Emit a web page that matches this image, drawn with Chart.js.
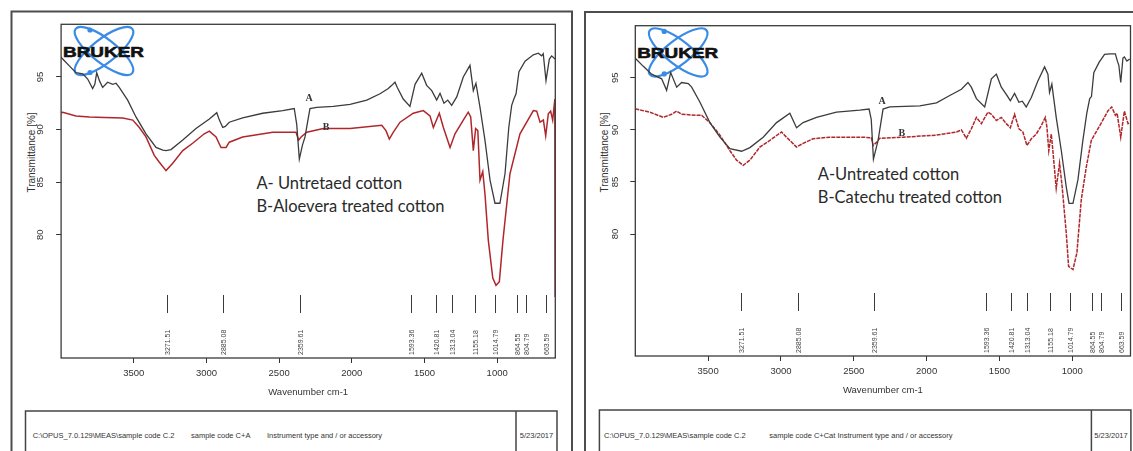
<!DOCTYPE html>
<html>
<head>
<meta charset="utf-8">
<script src="https://cdn.jsdelivr.net/npm/chart.js@4.4.1/dist/chart.umd.min.js"></script>
<style>
  body { margin: 0; background: #fff; width: 1133px; height: 451px; overflow: hidden; position: relative; }
  svg, canvas { position: absolute; top: 0; }
  #deco { left: 0; }
  #leftChart { left: 0; }
  #rightChart { left: 575px; }
</style>
</head>
<body>
<svg id="deco" width="1133" height="451" font-family="Arial, 'Liberation Sans', sans-serif">
  <!-- outer frames -->
  <rect x="11.5" y="11.5" width="560.5" height="470" fill="none" stroke="#4d4d4d" stroke-width="2"/>
  <rect x="585" y="12" width="600" height="470" fill="none" stroke="#4d4d4d" stroke-width="2"/>

  <!-- bruker logos -->
  <g id="logoL">
    <ellipse cx="104" cy="51" rx="36" ry="12" transform="rotate(38 104 51)" fill="none" stroke="#3a8be6" stroke-width="2.2"/>
    <ellipse cx="104" cy="51" rx="36" ry="12" transform="rotate(-38 104 51)" fill="none" stroke="#3a8be6" stroke-width="2.2"/>
    <circle cx="90" cy="30" r="2.6" fill="#3a8be6"/>
    <circle cx="90" cy="72.5" r="2.6" fill="#3a8be6"/>
    <text x="63" y="57" font-weight="bold" font-size="15.5" fill="#111" stroke="#111" stroke-width="0.6" textLength="81" lengthAdjust="spacingAndGlyphs">BRUKER</text>
  </g>
  <use href="#logoL" transform="translate(574.2,1.4)"/>

  <!-- y axis titles -->
  <text transform="translate(35.3,152.5) rotate(-90)" text-anchor="middle" font-size="10" fill="#333">Transmittance [%]</text>
  <text transform="translate(608.4,152.5) rotate(-90)" text-anchor="middle" font-size="10" fill="#333">Transmittance [%]</text>

  <!-- sample annotations -->
  <g font-family="Lato, 'Open Sans', sans-serif" font-size="16.5" fill="#2a2a2a">
    <text x="256.4" y="189.2">A- Untretaed cotton</text>
    <text x="256.4" y="211.6">B-Aloevera treated cotton</text>
    <text x="817.8" y="179.9">A-Untreated cotton</text>
    <text x="817.8" y="202.6">B-Catechu treated cotton</text>
  </g>

  <!-- info boxes -->
  <g fill="none" stroke="#444" stroke-width="1.5">
    <rect x="25.5" y="411" width="531.5" height="60"/>
    <line x1="516" y1="411" x2="516" y2="451"/>
    <rect x="599.4" y="410" width="531.5" height="60"/>
    <line x1="1091.4" y1="410" x2="1091.4" y2="451"/>
  </g>
  <g font-size="7.5" fill="#333">
    <text x="32.7" y="438">C:\OPUS_7.0.129\MEAS\sample code C.2</text>
    <text x="191" y="438">sample code C+A</text>
    <text x="267" y="438">Instrument type and / or accessory</text>
    <text x="536.5" y="438" text-anchor="middle">5/23/2017</text>
    <text x="604" y="437.5">C:\OPUS_7.0.129\MEAS\sample code C.2</text>
    <text x="769.3" y="437.5">sample code C+Cat Instrument type and / or accessory</text>
    <text x="1111" y="437.5" text-anchor="middle">5/23/2017</text>
  </g>
</svg>
<canvas id="leftChart" width="572" height="451"></canvas>
<canvas id="rightChart" width="558" height="451"></canvas>
<script>
// axis ticks and marked peaks (cm-1)
const xTicks = [3500, 3000, 2500, 2000, 1500, 1000];
const yTicks = [80, 85, 90, 95];
const peakWn = [3271.51, 2885.08, 2359.61, 1593.36, 1420.81, 1313.04, 1155.18, 1014.79, 864.55, 804.79, 663.59];
const seriesNames = ['A', 'B'];

// left panel: A untreated, B aloevera treated
const leftWnA = [
  4000, 3989, 3940, 3898, 3851, 3817, 3783, 3768, 3755, 3735,
  3714, 3680, 3645, 3622, 3600, 3542, 3485, 3416, 3347, 3300,
  3278, 3244, 3163, 3072, 2980, 2929, 2911, 2888, 2870, 2843,
  2751, 2613, 2475, 2396, 2379, 2361, 2340, 2322, 2288, 2241,
  2127, 2012, 1897, 1806, 1749, 1725, 1703, 1687, 1646, 1600,
  1565, 1519, 1485, 1450, 1416, 1393, 1366, 1340, 1313, 1278,
  1233, 1187, 1164, 1146, 1118, 1084, 1049, 1015, 981, 946,
  920, 900, 885, 870, 850, 808, 751, 717, 694, 683,
  664, 641, 625, 602
];
const leftTA = [
  96.9, 96.7, 96.0, 95.4, 95.3, 94.8, 93.9, 94.3, 95.4, 94.6,
  94.0, 94.5, 94.3, 94.4, 94.0, 92.8, 91.2, 89.6, 88.3, 88.05,
  88.0, 88.1, 89.0, 90.1, 91.0, 91.6, 90.9, 90.2, 90.3, 90.7,
  91.1, 91.55, 91.8, 92.0, 90.5, 87.2, 88.5, 89.3, 92.0, 92.1,
  92.2, 92.4, 92.8, 93.4, 93.9, 94.2, 94.5, 94.0, 92.9, 92.2,
  94.3, 95.35, 94.2, 93.7, 92.8, 93.45, 92.5, 92.8, 92.3, 93.1,
  95.0, 96.1, 93.7, 94.4, 92.1, 89.0, 85.2, 83.0, 83.0, 85.8,
  90.2, 92.3, 92.9, 93.4, 95.5, 96.5, 97.1, 97.25, 97.0, 97.2,
  94.65, 96.7, 97.0, 96.7
];
const leftWnB = [
  4000, 3989, 3898, 3806, 3700, 3576, 3507, 3462, 3416, 3359,
  3324, 3278, 3232, 3163, 3095, 3015, 2980, 2934, 2900, 2865,
  2843, 2751, 2544, 2384, 2366, 2349, 2310, 2196, 2012, 1794,
  1765, 1742, 1714, 1668, 1577, 1508, 1462, 1439, 1398, 1370,
  1324, 1290, 1233, 1199, 1182, 1164, 1148, 1133, 1118, 1099,
  1084, 1061, 1030, 1008, 985, 960, 912, 843, 751, 728,
  705, 682, 666, 648, 632, 618, 603, 601
];
const leftTB = [
  91.6, 91.65, 91.3, 91.2, 91.15, 91.1, 90.9, 90.2, 89.3, 87.55,
  86.9, 86.1, 86.8, 88.0, 88.7, 89.6, 89.85, 89.3, 88.3, 88.3,
  88.8, 89.3, 89.75, 89.75, 89.0, 89.3, 89.75, 90.1, 90.1, 90.4,
  89.9, 89.1, 89.75, 90.7, 91.55, 91.8, 91.3, 90.2, 91.55, 90.2,
  88.3, 89.6, 90.9, 91.65, 91.2, 88.0, 90.1, 89.9, 85.2, 86.0,
  83.9, 79.5, 75.9, 75.2, 75.55, 79.5, 85.8, 89.6, 91.8, 91.75,
  90.7, 90.9, 89.4, 91.5, 91.75, 90.9, 92.9, 74.1
];

// right panel: A untreated, B catechu treated
const rightWnA = [
  4000, 3995, 3945, 3888, 3819, 3785, 3757, 3716, 3682, 3636,
  3613, 3556, 3488, 3419, 3350, 3270, 3213, 3122, 3030, 2939,
  2893, 2848, 2756, 2619, 2459, 2395, 2380, 2365, 2333, 2299,
  2253, 2047, 1932, 1841, 1761, 1716, 1693, 1658, 1601, 1555,
  1521, 1487, 1453, 1425, 1396, 1366, 1343, 1316, 1281, 1236,
  1190, 1167, 1156, 1140, 1110, 1075, 1041, 1022, 995, 961,
  927, 900, 880, 868, 852, 815, 778, 740, 704, 690,
  680, 667, 652, 642, 625, 606
];
const rightTA = [
  96.9, 96.8, 96.1, 95.35, 94.9, 93.8, 95.5, 94.1, 94.55, 94.45,
  94.1, 92.65, 90.7, 89.3, 88.2, 87.95, 88.3, 89.3, 90.7, 91.6,
  90.2, 90.7, 91.2, 91.7, 91.9, 92.0, 91.0, 87.2, 89.0, 92.0,
  92.2, 92.3, 92.6, 93.3, 93.9, 94.55, 94.1, 93.0, 92.2, 94.9,
  95.35, 94.1, 93.4, 92.8, 93.5, 92.65, 92.75, 92.2, 93.1, 94.7,
  96.05, 95.35, 93.6, 94.4, 91.2, 88.0, 84.5, 82.95, 82.95, 85.2,
  89.0, 91.6, 93.0, 93.2, 95.5, 96.5, 97.25, 97.3, 97.3, 96.6,
  96.2, 94.55, 96.9, 97.0, 96.6, 96.8
];
const rightWnB = [
  4000, 3995, 3899, 3808, 3750, 3716, 3682, 3579, 3545, 3488,
  3419, 3350, 3305, 3259, 3213, 3145, 3076, 2996, 2962, 2893,
  2848, 2779, 2665, 2436, 2379, 2367, 2344, 2322, 2162, 1932,
  1795, 1761, 1727, 1693, 1658, 1624, 1579, 1555, 1521, 1487,
  1453, 1425, 1396, 1366, 1339, 1311, 1281, 1247, 1213, 1185,
  1174, 1161, 1144, 1133, 1110, 1087, 1069, 1041, 1025, 995,
  968, 938, 904, 869, 803, 754, 729, 704, 692, 667,
  642, 617, 606
];
const rightTB = [
  92.0, 92.0, 91.7, 91.2, 91.5, 91.8, 91.5, 91.4, 91.4, 90.7,
  89.5, 88.0, 87.1, 86.6, 87.1, 88.35, 89.0, 89.8, 89.3, 88.35,
  88.7, 89.15, 89.3, 89.3, 89.25, 88.5, 88.8, 89.2, 89.3, 89.5,
  89.8, 90.0, 89.2, 90.1, 91.2, 90.6, 91.7, 91.5, 90.9, 91.2,
  90.6, 90.2, 91.5, 90.1, 89.8, 88.5, 89.15, 89.6, 90.4, 91.2,
  90.3, 88.0, 89.6, 88.0, 84.4, 86.8, 84.5, 80.1, 76.9, 76.6,
  78.2, 83.3, 86.4, 89.0, 90.6, 91.85, 92.2, 91.4, 91.6, 89.3,
  91.8, 90.6, 90.7
];

function pts(wn, t) {
  return wn.map((w, i) => ({ x: w, y: t[i] }));
}

// plot box, rotated y labels, peak markers and the A / B curve tags
const decor = {
  id: 'decor',
  afterDatasetsDraw(chart, args, o) {
    const { ctx, chartArea: a, scales: { x, y } } = chart;
    ctx.save();
    ctx.strokeStyle = '#3a3a3a';
    ctx.lineWidth = 1.3;
    ctx.strokeRect(a.left, a.top, a.right - a.left, a.bottom - a.top);

    ctx.fillStyle = '#333';
    ctx.font = '9.5px Arial';
    ctx.textAlign = 'center';
    ctx.textBaseline = 'middle';
    yTicks.forEach(v => {
      ctx.save();
      ctx.translate(a.left - o.yLabelOff, y.getPixelForValue(v));
      ctx.rotate(-Math.PI / 2);
      ctx.fillText(String(v), 0, 0);
      ctx.restore();
    });

    ctx.lineWidth = 1;
    ctx.fillStyle = '#444';
    ctx.font = '7px Arial';
    ctx.textAlign = 'left';
    peakWn.forEach(w => {
      const px = Math.round(x.getPixelForValue(w)) + 0.5;
      ctx.beginPath();
      ctx.moveTo(px, a.bottom - 63);
      ctx.lineTo(px, a.bottom - 45);
      ctx.stroke();
      ctx.save();
      ctx.translate(px + 1, a.bottom - 3);
      ctx.rotate(-Math.PI / 2);
      ctx.fillText(w.toFixed(2), 0, 0);
      ctx.restore();
    });

    ctx.font = 'bold 10px "Liberation Serif"';
    ctx.fillStyle = '#333';
    ctx.textAlign = 'center';
    o.tags.forEach((t, i) => {
      ctx.fillText(seriesNames[i], x.getPixelForValue(t[0]), y.getPixelForValue(t[1]));
    });
    ctx.restore();
  }
};

const tickFont = { family: 'Arial', size: 9.5 };

function makeChart(id, a, b, o) {
  return new Chart(document.getElementById(id), {
    type: 'line',
    data: {
      datasets: [
        { label: seriesNames[0], data: a, borderColor: '#3c3c3c', borderWidth: 1.3 },
        { label: seriesNames[1], data: b, borderColor: '#b0272b', borderWidth: 1.5, borderDash: o.dash }
      ]
    },
    options: {
      responsive: false,
      animation: false,
      parsing: false,
      elements: { point: { radius: 0 }, line: { tension: 0 } },
      layout: { padding: o.pad },
      scales: {
        x: {
          type: 'linear',
          reverse: true,
          min: 600,
          max: 4000,
          afterBuildTicks: s => { s.ticks = xTicks.map(v => ({ value: v })); },
          afterFit: s => { s.height = 40; },
          grid: { drawOnChartArea: false, drawTicks: true, tickLength: 5, color: '#333' },
          border: { display: false },
          ticks: { font: tickFont, color: '#333', padding: 5, maxRotation: 0, autoSkip: false, callback: v => String(v) },
          title: { display: true, text: 'Wavenumber cm-1', font: tickFont, color: '#333', padding: 0 }
        },
        y: {
          type: 'linear',
          min: 68.3,
          max: 100,
          afterBuildTicks: s => { s.ticks = yTicks.map(v => ({ value: v })); },
          afterFit: s => { s.width = o.yWidth; },
          grid: { drawOnChartArea: false, drawTicks: true, tickLength: 5, color: '#333' },
          border: { display: false },
          ticks: { display: false }
        }
      },
      plugins: {
        legend: { display: false },
        tooltip: { enabled: false },
        decor: { tags: o.tags, yLabelOff: o.yLabelOff }
      }
    },
    plugins: [decor]
  });
}

makeChart('leftChart', pts(leftWnA, leftTA), pts(leftWnB, leftTB), {
  pad: { left: 0, top: 24.3, right: 16.7, bottom: 53 },
  yWidth: 61.1,
  yLabelOff: 21,
  dash: [],
  tags: [[2294, 92.97], [2177, 90.23]]
});

makeChart('rightChart', pts(rightWnA, rightTA), pts(rightWnB, rightTB), {
  pad: { left: 0, top: 25.7, right: 2.5, bottom: 55 },
  yWidth: 60.3,
  yLabelOff: 19.5,
  dash: [4, 1],
  tags: [[2305, 92.74], [2170, 89.69]]
});
</script>
</body>
</html>
